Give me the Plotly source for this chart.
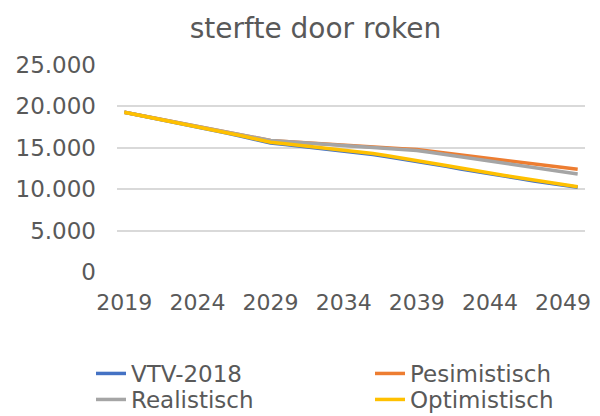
import plotly.graph_objects as go

years = list(range(2019, 2051))

vtv_2018 = [19300, 18950, 18600, 18260, 17920, 17580, 17190, 16790, 16390, 15990, 15590,
            15400, 15210, 15020, 14830, 14640, 14420, 14180, 13920, 13650, 13380,
            13070, 12760, 12440, 12130, 11820, 11550, 11280, 11000, 10730, 10470, 10230]
pesimistisch = [19300, 18950, 18610, 18270, 17930, 17600, 17220, 16860, 16520, 16190, 15880,
                15760, 15640, 15520, 15410, 15300, 15200, 15100, 15000, 14900, 14800,
                14580, 14360, 14140, 13920, 13700, 13480, 13270, 13050, 12840, 12620, 12410]
realistisch = [19300, 18950, 18610, 18270, 17930, 17600, 17220, 16860, 16520, 16190, 15880,
               15760, 15640, 15520, 15400, 15270, 15150, 15030, 14910, 14790, 14670,
               14420, 14170, 13920, 13670, 13420, 13160, 12900, 12630, 12370, 12100, 11840]
optimistisch = [19300, 18950, 18610, 18270, 17930, 17600, 17220, 16830, 16450, 16060, 15680,
                15500, 15310, 15120, 14940, 14750, 14530, 14300, 14040, 13770, 13500,
                13190, 12870, 12560, 12240, 11930, 11660, 11390, 11110, 10840, 10570, 10300]

# (name, values, colour, legend slot)
series = [
    ("VTV-2018", vtv_2018, "#4472C4", "legend"),
    ("Pesimistisch", pesimistisch, "#ED7D31", "legend2"),
    ("Realistisch", realistisch, "#A5A5A5", "legend3"),
    ("Optimistisch", optimistisch, "#FFC000", "legend4"),
]

x_ticks = [2019, 2024, 2029, 2034, 2039, 2044, 2049]
y_ticks = [0, 5000, 10000, 15000, 20000, 25000]

font_family = "DejaVu Sans, Verdana, sans-serif"
text_color = "#595959"

W, H = 592, 408  # page body has an 8px margin

fig = go.Figure()
for name, vals, color, leg in series:
    fig.add_trace(go.Scatter(x=years, y=vals, mode="lines", name=name, legend=leg,
                             line=dict(color=color, width=3.5)))

legend_common = dict(orientation="v", xref="container", yref="container",
                     xanchor="left", yanchor="top", tracegroupgap=0,
                     font=dict(family=font_family, size=23, color=text_color),
                     bgcolor="rgba(0,0,0,0)")

col1, col2 = 83 / W, 362 / W
row1, row2 = 1 - 344 / H, 1 - 370 / H

fig.update_layout(
    width=W, height=H,
    margin=dict(l=109, r=15, t=57, b=144, autoexpand=False),
    paper_bgcolor="white", plot_bgcolor="white",
    separators=",.",
    font=dict(family=font_family, color=text_color, size=22),
    title=dict(text="sterfte door roken", x=307.5 / W, xanchor="center",
               y=1 - 20 / H, yanchor="middle", xref="container", yref="container",
               font=dict(family=font_family, size=28, color=text_color)),
    showlegend=True,
    legend=dict(x=col1, y=row1, **legend_common),
    legend2=dict(x=col2, y=row1, **legend_common),
    legend3=dict(x=col1, y=row2, **legend_common),
    legend4=dict(x=col2, y=row2, **legend_common),
)
fig.update_xaxes(range=[2018.5, 2050.5], tickvals=x_ticks, ticktext=[str(t) for t in x_ticks],
                 showgrid=False, zeroline=False, showline=False, ticks="",
                 ticklabelstandoff=15, tickfont=dict(size=22, color=text_color))
fig.update_yaxes(range=[0, 25000], tickvals=y_ticks, tickformat=",d",
                 showgrid=True, gridcolor="#D9D9D9", gridwidth=1.5,
                 zeroline=False, showline=False, ticks="",
                 ticklabelstandoff=20, tickfont=dict(size=23, color=text_color))

fig.write_html("out.html")
